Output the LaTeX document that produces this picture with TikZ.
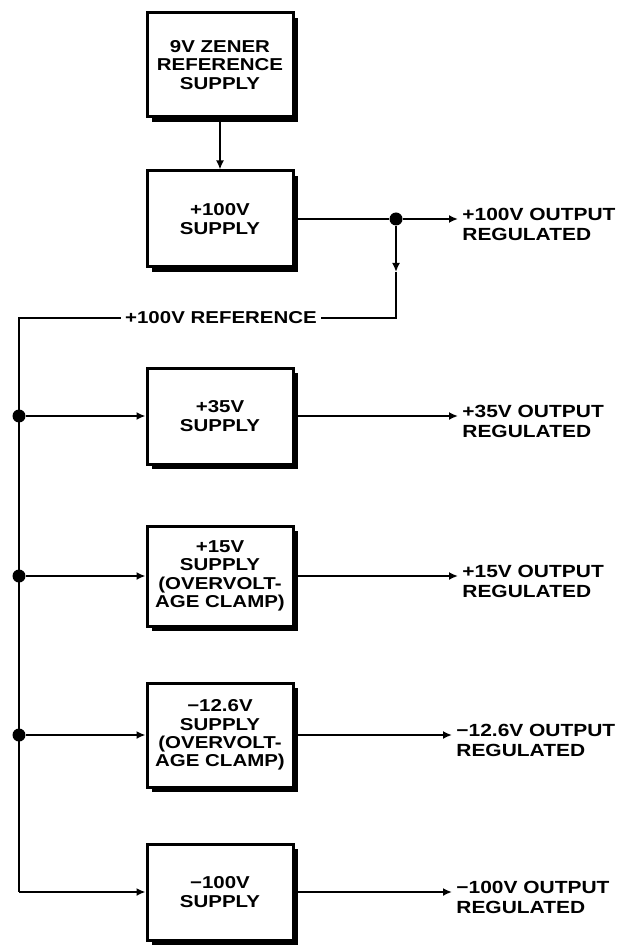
\documentclass[tikz,border=0pt]{standalone}
\usepackage{fontspec}
\setmainfont{Liberation Sans}[FakeStretch=1.19]
\usetikzlibrary{arrows.meta,shadows}
\begin{document}
\begin{tikzpicture}[x=0.5pt,y=-0.5pt,
  font=\fontsize{8.6}{9.2}\selectfont\bfseries,
  box/.style={draw, line width=1.5pt, fill=white, minimum width=73pt, align=center, inner sep=1pt,
    drop shadow={shadow xshift=2.5pt, shadow yshift=-2.5pt, opacity=1, fill=black}},
  wire/.style={line width=1.3pt},
  arr/.style={wire, -{Latex[length=4.5pt,width=4pt]}},
  lab/.style={anchor=west, align=left, inner sep=2pt, font=\fontsize{8.8}{10}\selectfont\bfseries},
  dot/.style={circle, fill=black, inner sep=0pt, minimum size=6.5pt}]
\useasboundingbox (0,0) rectangle (640,946);
% boxes
\node[box, minimum height=52pt] (zen) at (220,65) {9V ZENER\\REFERENCE\\SUPPLY};
\node[box, minimum height=48pt] (s100) at (220,219) {+100V\\SUPPLY};
\node[box, minimum height=48pt] (s35) at (220,416) {+35V\\SUPPLY};
\node[box, minimum height=50pt] (s15) at (220,576) {+15V\\SUPPLY\\(OVERVOLT-\\AGE CLAMP)};
\node[box, minimum height=52pt] (s12) at (220,735) {−12.6V\\SUPPLY\\(OVERVOLT-\\AGE CLAMP)};
\node[box, minimum height=48pt] (sm) at (220,892) {−100V\\SUPPLY};
% output labels
\node[lab] (o100) at (458,224) {+100V OUTPUT\\REGULATED};
\node[lab] (o35) at (458,421) {+35V OUTPUT\\REGULATED};
\node[lab] (o15) at (458,581) {+15V OUTPUT\\REGULATED};
\node[lab] (o12) at (452,740) {−12.6V OUTPUT\\REGULATED};
\node[lab] (om) at (452,897) {−100V OUTPUT\\REGULATED};
% reference label
\node[inner sep=2pt] (ref) at (221,318) {+100V REFERENCE};
% junctions
\node[dot] (j) at (396,219) {};
\coordinate (jm) at (396,272);
\coordinate (jr) at (396,318);
\coordinate (tl) at (19,318);
\coordinate (bl) at (19,892);
\node[dot] (d35) at (19,416) {};
\node[dot] (d15) at (19,576) {};
\node[dot] (d12) at (19,735) {};
% connectors
\draw[arr] (zen) -- (s100);
\draw[wire] (s100) -- (j);
\draw[arr] (j) -- (j -| o100.west);
\draw[arr] (j) -- (jm);
\draw[wire] (jm) -- (jr) -- (ref.east);
\draw[wire] (ref.west) -- (tl) -- (bl);
\draw[arr] (d35) -- (s35);
\draw[arr] (d15) -- (s15);
\draw[arr] (d12) -- (s12);
\draw[arr] (bl) -- (sm);
\draw[arr] (s35) -- (s35 -| o35.west);
\draw[arr] (s15) -- (s15 -| o15.west);
\draw[arr] (s12) -- (s12 -| o12.west);
\draw[arr] (sm) -- (sm -| om.west);
\end{tikzpicture}
\end{document}
